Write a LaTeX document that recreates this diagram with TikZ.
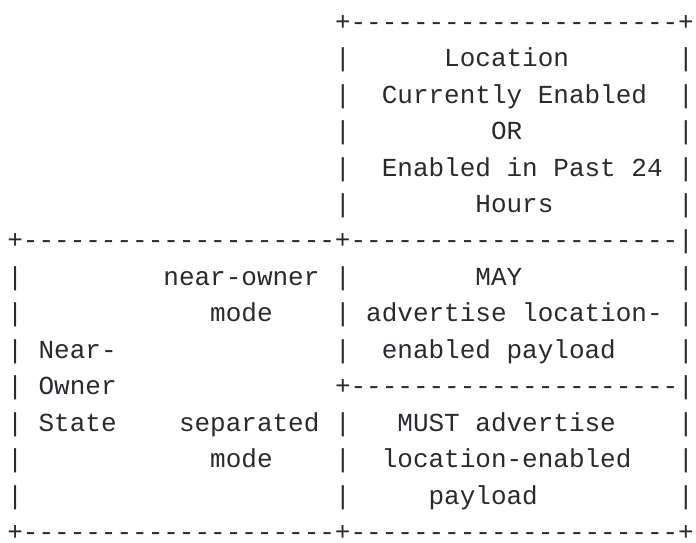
\documentclass[tikz,border=0pt]{standalone}
\usepackage{fontspec}
\setmonofont{Liberation Mono}
\definecolor{asciiink}{RGB}{40,42,46}
\ExplSyntaxOn
\cs_new:Npn \dashrun #1 { \prg_replicate:nn {#1} { -\kern0pt } }
\ExplSyntaxOff
\newcommand\seg[4]{\node[asciitext] (#1) at ({7.4pt+#2*15.6pt},{-(30.2pt+#3*36.45pt)}) {#4};}
\tikzset{asciitext/.style={anchor=base west, inner sep=0pt, outer sep=0pt, text=asciiink,
  font=\ttfamily\fontsize{26pt}{30pt}\selectfont}}
\begin{document}
\begin{tikzpicture}
\useasboundingbox (0,0) rectangle (696pt,-542pt);
% header box
\seg{top}{21}{0}{+\dashrun{21}+}
\seg{h1l}{21}{1}{|}\seg{h1}{28}{1}{Location}\seg{h1r}{43}{1}{|}
\seg{h2l}{21}{2}{|}\seg{h2}{24}{2}{Currently Enabled}\seg{h2r}{43}{2}{|}
\seg{h3l}{21}{3}{|}\seg{h3}{31}{3}{OR}\seg{h3r}{43}{3}{|}
\seg{h4l}{21}{4}{|}\seg{h4}{24}{4}{Enabled in Past 24}\seg{h4r}{43}{4}{|}
\seg{h5l}{21}{5}{|}\seg{h5}{30}{5}{Hours}\seg{h5r}{43}{5}{|}
\seg{sep}{0}{6}{+\dashrun{20}+\dashrun{21}|}
% body
\seg{b1l}{0}{7}{|}\seg{b1}{10}{7}{near-owner}\seg{b1m}{21}{7}{|}\seg{c1}{30}{7}{MAY}\seg{b1r}{43}{7}{|}
\seg{b2l}{0}{8}{|}\seg{b2}{13}{8}{mode}\seg{b2m}{21}{8}{|}\seg{c2}{23}{8}{advertise location-}\seg{b2r}{43}{8}{|}
\seg{b3l}{0}{9}{|}\seg{b3}{2}{9}{Near-}\seg{b3m}{21}{9}{|}\seg{c3}{24}{9}{enabled payload}\seg{b3r}{43}{9}{|}
\seg{b4l}{0}{10}{|}\seg{b4}{2}{10}{Owner}\seg{mid}{21}{10}{+\dashrun{21}|}
\seg{b5l}{0}{11}{|}\seg{b5}{2}{11}{State}\seg{b5s}{11}{11}{separated}\seg{b5m}{21}{11}{|}\seg{c5}{25}{11}{MUST advertise}\seg{b5r}{43}{11}{|}
\seg{b6l}{0}{12}{|}\seg{b6}{13}{12}{mode}\seg{b6m}{21}{12}{|}\seg{c6}{24}{12}{location-enabled}\seg{b6r}{43}{12}{|}
\seg{b7l}{0}{13}{|}\seg{b7m}{21}{13}{|}\seg{c7}{27}{13}{payload}\seg{b7r}{43}{13}{|}
\seg{bot}{0}{14}{+\dashrun{20}+\dashrun{21}+}
\end{tikzpicture}
\end{document}
